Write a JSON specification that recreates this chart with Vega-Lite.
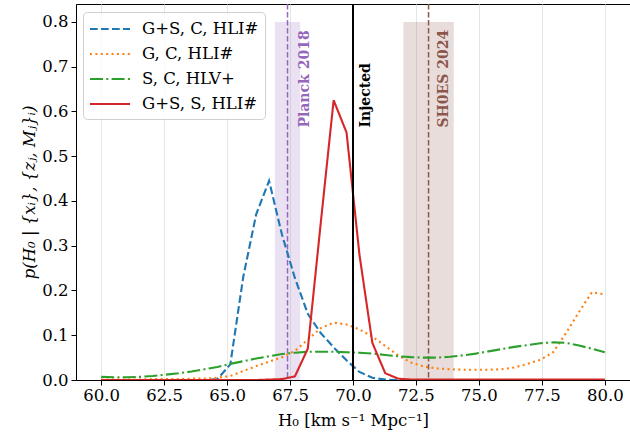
{
  "$schema": "https://vega.github.io/schema/vega-lite/v6.json",
  "autosize": {"type": "none"},
  "padding": {"left": 76, "top": 4, "right": 0, "bottom": 54},
  "width": 554,
  "height": 376,
  "background": "white",
  "config": {
    "view": {"stroke": "black", "strokeWidth": 1},
    "axis": {
      "labelFont": "DejaVu Serif", "labelFontSize": 16.5, "labelColor": "black",
      "titleFont": "DejaVu Serif", "titleFontSize": 16.5, "titleFontWeight": "normal", "titleColor": "black",
      "domainColor": "black", "tickColor": "black", "tickSize": 5,
      "gridColor": "#e6e6e6", "gridWidth": 1
    }
  },
  "datasets": {
    "curves": [
      {"h":60.0,"p":0,"s":"G+S, C, HLI#"},{"h":60.513,"p":0,"s":"G+S, C, HLI#"},{"h":61.026,"p":0,"s":"G+S, C, HLI#"},{"h":61.538,"p":0,"s":"G+S, C, HLI#"},{"h":62.051,"p":0,"s":"G+S, C, HLI#"},{"h":62.564,"p":0,"s":"G+S, C, HLI#"},{"h":63.077,"p":0,"s":"G+S, C, HLI#"},{"h":63.59,"p":0,"s":"G+S, C, HLI#"},{"h":64.103,"p":0,"s":"G+S, C, HLI#"},{"h":64.615,"p":0.002,"s":"G+S, C, HLI#"},{"h":65.128,"p":0.035,"s":"G+S, C, HLI#"},{"h":65.641,"p":0.23,"s":"G+S, C, HLI#"},{"h":66.154,"p":0.37,"s":"G+S, C, HLI#"},{"h":66.667,"p":0.445,"s":"G+S, C, HLI#"},{"h":67.179,"p":0.325,"s":"G+S, C, HLI#"},{"h":67.692,"p":0.228,"s":"G+S, C, HLI#"},{"h":68.205,"p":0.148,"s":"G+S, C, HLI#"},{"h":68.718,"p":0.105,"s":"G+S, C, HLI#"},{"h":69.231,"p":0.073,"s":"G+S, C, HLI#"},{"h":69.744,"p":0.044,"s":"G+S, C, HLI#"},{"h":70.256,"p":0.018,"s":"G+S, C, HLI#"},{"h":70.769,"p":0.005,"s":"G+S, C, HLI#"},{"h":71.282,"p":0.001,"s":"G+S, C, HLI#"},{"h":71.795,"p":0,"s":"G+S, C, HLI#"},{"h":72.308,"p":0,"s":"G+S, C, HLI#"},{"h":72.821,"p":0,"s":"G+S, C, HLI#"},{"h":73.333,"p":0,"s":"G+S, C, HLI#"},{"h":73.846,"p":0,"s":"G+S, C, HLI#"},{"h":74.359,"p":0,"s":"G+S, C, HLI#"},{"h":74.872,"p":0,"s":"G+S, C, HLI#"},{"h":75.385,"p":0,"s":"G+S, C, HLI#"},{"h":75.897,"p":0,"s":"G+S, C, HLI#"},{"h":76.41,"p":0,"s":"G+S, C, HLI#"},{"h":76.923,"p":0,"s":"G+S, C, HLI#"},{"h":77.436,"p":0,"s":"G+S, C, HLI#"},{"h":77.949,"p":0,"s":"G+S, C, HLI#"},{"h":78.462,"p":0,"s":"G+S, C, HLI#"},{"h":78.974,"p":0,"s":"G+S, C, HLI#"},{"h":79.487,"p":0,"s":"G+S, C, HLI#"},{"h":80.0,"p":0,"s":"G+S, C, HLI#"},

      {"h":60.0,"p":0.001,"s":"G, C, HLI#"},{"h":60.513,"p":0.001,"s":"G, C, HLI#"},{"h":61.026,"p":0.001,"s":"G, C, HLI#"},{"h":61.538,"p":0.001,"s":"G, C, HLI#"},{"h":62.051,"p":0.002,"s":"G, C, HLI#"},{"h":62.564,"p":0.002,"s":"G, C, HLI#"},{"h":63.077,"p":0.002,"s":"G, C, HLI#"},{"h":63.59,"p":0.003,"s":"G, C, HLI#"},{"h":64.103,"p":0.003,"s":"G, C, HLI#"},{"h":64.615,"p":0.005,"s":"G, C, HLI#"},{"h":65.128,"p":0.009,"s":"G, C, HLI#"},{"h":65.641,"p":0.02,"s":"G, C, HLI#"},{"h":66.154,"p":0.031,"s":"G, C, HLI#"},{"h":66.667,"p":0.041,"s":"G, C, HLI#"},{"h":67.179,"p":0.051,"s":"G, C, HLI#"},{"h":67.692,"p":0.065,"s":"G, C, HLI#"},{"h":68.205,"p":0.09,"s":"G, C, HLI#"},{"h":68.718,"p":0.116,"s":"G, C, HLI#"},{"h":69.231,"p":0.128,"s":"G, C, HLI#"},{"h":69.744,"p":0.124,"s":"G, C, HLI#"},{"h":70.256,"p":0.113,"s":"G, C, HLI#"},{"h":70.769,"p":0.097,"s":"G, C, HLI#"},{"h":71.282,"p":0.076,"s":"G, C, HLI#"},{"h":71.795,"p":0.055,"s":"G, C, HLI#"},{"h":72.308,"p":0.039,"s":"G, C, HLI#"},{"h":72.821,"p":0.03,"s":"G, C, HLI#"},{"h":73.333,"p":0.026,"s":"G, C, HLI#"},{"h":73.846,"p":0.024,"s":"G, C, HLI#"},{"h":74.359,"p":0.023,"s":"G, C, HLI#"},{"h":74.872,"p":0.023,"s":"G, C, HLI#"},{"h":75.385,"p":0.023,"s":"G, C, HLI#"},{"h":75.897,"p":0.024,"s":"G, C, HLI#"},{"h":76.41,"p":0.028,"s":"G, C, HLI#"},{"h":76.923,"p":0.036,"s":"G, C, HLI#"},{"h":77.436,"p":0.045,"s":"G, C, HLI#"},{"h":77.949,"p":0.062,"s":"G, C, HLI#"},{"h":78.462,"p":0.105,"s":"G, C, HLI#"},{"h":78.974,"p":0.152,"s":"G, C, HLI#"},{"h":79.487,"p":0.196,"s":"G, C, HLI#"},{"h":80.0,"p":0.191,"s":"G, C, HLI#"},

      {"h":60.0,"p":0.007,"s":"S, C, HLV+"},{"h":60.513,"p":0.006,"s":"S, C, HLV+"},{"h":61.026,"p":0.006,"s":"S, C, HLV+"},{"h":61.538,"p":0.007,"s":"S, C, HLV+"},{"h":62.051,"p":0.009,"s":"S, C, HLV+"},{"h":62.564,"p":0.012,"s":"S, C, HLV+"},{"h":63.077,"p":0.015,"s":"S, C, HLV+"},{"h":63.59,"p":0.019,"s":"S, C, HLV+"},{"h":64.103,"p":0.024,"s":"S, C, HLV+"},{"h":64.615,"p":0.029,"s":"S, C, HLV+"},{"h":65.128,"p":0.036,"s":"S, C, HLV+"},{"h":65.641,"p":0.042,"s":"S, C, HLV+"},{"h":66.154,"p":0.048,"s":"S, C, HLV+"},{"h":66.667,"p":0.053,"s":"S, C, HLV+"},{"h":67.179,"p":0.058,"s":"S, C, HLV+"},{"h":67.692,"p":0.061,"s":"S, C, HLV+"},{"h":68.205,"p":0.063,"s":"S, C, HLV+"},{"h":68.718,"p":0.063,"s":"S, C, HLV+"},{"h":69.231,"p":0.063,"s":"S, C, HLV+"},{"h":69.744,"p":0.062,"s":"S, C, HLV+"},{"h":70.256,"p":0.061,"s":"S, C, HLV+"},{"h":70.769,"p":0.059,"s":"S, C, HLV+"},{"h":71.282,"p":0.056,"s":"S, C, HLV+"},{"h":71.795,"p":0.053,"s":"S, C, HLV+"},{"h":72.308,"p":0.051,"s":"S, C, HLV+"},{"h":72.821,"p":0.05,"s":"S, C, HLV+"},{"h":73.333,"p":0.05,"s":"S, C, HLV+"},{"h":73.846,"p":0.052,"s":"S, C, HLV+"},{"h":74.359,"p":0.055,"s":"S, C, HLV+"},{"h":74.872,"p":0.059,"s":"S, C, HLV+"},{"h":75.385,"p":0.064,"s":"S, C, HLV+"},{"h":75.897,"p":0.069,"s":"S, C, HLV+"},{"h":76.41,"p":0.074,"s":"S, C, HLV+"},{"h":76.923,"p":0.078,"s":"S, C, HLV+"},{"h":77.436,"p":0.082,"s":"S, C, HLV+"},{"h":77.949,"p":0.084,"s":"S, C, HLV+"},{"h":78.462,"p":0.083,"s":"S, C, HLV+"},{"h":78.974,"p":0.077,"s":"S, C, HLV+"},{"h":79.487,"p":0.07,"s":"S, C, HLV+"},{"h":80.0,"p":0.062,"s":"S, C, HLV+"},

      {"h":60.0,"p":0,"s":"G+S, S, HLI#"},{"h":60.513,"p":0,"s":"G+S, S, HLI#"},{"h":61.026,"p":0,"s":"G+S, S, HLI#"},{"h":61.538,"p":0,"s":"G+S, S, HLI#"},{"h":62.051,"p":0,"s":"G+S, S, HLI#"},{"h":62.564,"p":0,"s":"G+S, S, HLI#"},{"h":63.077,"p":0,"s":"G+S, S, HLI#"},{"h":63.59,"p":0,"s":"G+S, S, HLI#"},{"h":64.103,"p":0,"s":"G+S, S, HLI#"},{"h":64.615,"p":0,"s":"G+S, S, HLI#"},{"h":65.128,"p":0,"s":"G+S, S, HLI#"},{"h":65.641,"p":0,"s":"G+S, S, HLI#"},{"h":66.154,"p":0,"s":"G+S, S, HLI#"},{"h":66.667,"p":0.001,"s":"G+S, S, HLI#"},{"h":67.179,"p":0.002,"s":"G+S, S, HLI#"},{"h":67.692,"p":0.008,"s":"G+S, S, HLI#"},{"h":68.205,"p":0.07,"s":"G+S, S, HLI#"},{"h":68.718,"p":0.35,"s":"G+S, S, HLI#"},{"h":69.231,"p":0.625,"s":"G+S, S, HLI#"},{"h":69.744,"p":0.553,"s":"G+S, S, HLI#"},{"h":70.256,"p":0.28,"s":"G+S, S, HLI#"},{"h":70.769,"p":0.083,"s":"G+S, S, HLI#"},{"h":71.282,"p":0.015,"s":"G+S, S, HLI#"},{"h":71.795,"p":0.003,"s":"G+S, S, HLI#"},{"h":72.308,"p":0.001,"s":"G+S, S, HLI#"},{"h":72.821,"p":0.001,"s":"G+S, S, HLI#"},{"h":73.333,"p":0.001,"s":"G+S, S, HLI#"},{"h":73.846,"p":0.001,"s":"G+S, S, HLI#"},{"h":74.359,"p":0.001,"s":"G+S, S, HLI#"},{"h":74.872,"p":0.001,"s":"G+S, S, HLI#"},{"h":75.385,"p":0.001,"s":"G+S, S, HLI#"},{"h":75.897,"p":0.001,"s":"G+S, S, HLI#"},{"h":76.41,"p":0.001,"s":"G+S, S, HLI#"},{"h":76.923,"p":0.001,"s":"G+S, S, HLI#"},{"h":77.436,"p":0.001,"s":"G+S, S, HLI#"},{"h":77.949,"p":0.001,"s":"G+S, S, HLI#"},{"h":78.462,"p":0.001,"s":"G+S, S, HLI#"},{"h":78.974,"p":0.001,"s":"G+S, S, HLI#"},{"h":79.487,"p":0.001,"s":"G+S, S, HLI#"},{"h":80.0,"p":0.001,"s":"G+S, S, HLI#"}
    ],
    "refs": [
      {"name": "Planck 2018", "h": 67.4, "lo": 66.9, "hi": 67.9},
      {"name": "SH0ES 2024", "h": 73.0, "lo": 72.0, "hi": 74.0},
      {"name": "Injected", "h": 70.0, "lo": 70.0, "hi": 70.0}
    ]
  },
  "encoding": {
    "x": {"type": "quantitative", "scale": {"domain": [59, 81], "nice": false, "zero": false},
      "axis": {"values": [60, 62.5, 65, 67.5, 70, 72.5, 75, 77.5, 80], "format": ".1f", "title": "H₀ [km s⁻¹ Mpc⁻¹]", "labelPadding": 2, "titlePadding": 9, "labelFlush": false}},
    "y": {"type": "quantitative", "scale": {"domain": [0, 0.84], "nice": false, "zero": false},
      "axis": {"values": [0, 0.1, 0.2, 0.3, 0.4, 0.5, 0.6, 0.7, 0.8], "format": ".1f", "title": "p(H₀ | {xᵢ}, {zⱼ, Mⱼ}ᵢ)", "titleFontStyle": "italic", "labelPadding": 3, "titlePadding": 4}}
  },
  "layer": [
    {
      "data": {"name": "refs"},
      "transform": [{"filter": "datum.name === 'Planck 2018'"}],
      "mark": {"type": "rect", "color": "#9467bd", "opacity": 0.2},
      "encoding": {"x": {"field": "lo"}, "x2": {"field": "hi"}, "y": {"datum": 0}, "y2": {"datum": 0.8}}
    },
    {
      "data": {"name": "refs"},
      "transform": [{"filter": "datum.name === 'SH0ES 2024'"}],
      "mark": {"type": "rect", "color": "#8c564b", "opacity": 0.2},
      "encoding": {"x": {"field": "lo"}, "x2": {"field": "hi"}, "y": {"datum": 0}, "y2": {"datum": 0.8}}
    },
    {
      "data": {"name": "refs"},
      "transform": [{"filter": "datum.name === 'Planck 2018'"}],
      "mark": {"type": "rule", "color": "#9467bd", "strokeWidth": 1.5, "strokeDash": [5.5, 2.5]},
      "encoding": {"x": {"field": "h"}}
    },
    {
      "data": {"name": "refs"},
      "transform": [{"filter": "datum.name === 'SH0ES 2024'"}],
      "mark": {"type": "rule", "color": "#8c564b", "strokeWidth": 1.5, "strokeDash": [5.5, 2.5]},
      "encoding": {"x": {"field": "h"}}
    },
    {
      "data": {"name": "curves"},
      "mark": {"type": "line", "strokeWidth": 2.1, "clip": true},
      "encoding": {
        "x": {"field": "h"},
        "y": {"field": "p"},
        "color": {"field": "s", "type": "nominal",
          "scale": {"domain": ["G+S, C, HLI#", "G, C, HLI#", "S, C, HLV+", "G+S, S, HLI#"], "range": ["#1f77b4", "#ff7f0e", "#2ca02c", "#d62728"]},
          "legend": {"title": null, "orient": "none", "legendX": 7, "legendY": 8, "symbolType": "M-1,0H3", "symbolSize": 400, "symbolStrokeWidth": 2, "labelFont": "DejaVu Serif", "labelFontSize": 16.5, "labelColor": "black", "labelOffset": 31, "rowPadding": 5, "padding": 6, "fillColor": "rgba(255,255,255,0.8)", "strokeColor": "#d0d0d0", "cornerRadius": 4}},
        "strokeDash": {"field": "s", "type": "nominal",
          "scale": {"domain": ["G+S, C, HLI#", "G, C, HLI#", "S, C, HLV+", "G+S, S, HLI#"], "range": [[7.7, 3.3], [2, 3.4], [13, 3.3, 2, 3.3], [1, 0]]},
          "legend": {"title": null, "orient": "none", "legendX": 7, "legendY": 8, "symbolType": "M-1,0H3", "symbolSize": 400, "symbolStrokeWidth": 2, "labelFont": "DejaVu Serif", "labelFontSize": 16.5, "labelColor": "black", "labelOffset": 31, "rowPadding": 5, "padding": 6, "fillColor": "rgba(255,255,255,0.8)", "strokeColor": "#d0d0d0", "cornerRadius": 4}}
      }
    },
    {
      "data": {"name": "refs"},
      "transform": [{"filter": "datum.name === 'Injected'"}],
      "mark": {"type": "rule", "color": "black", "strokeWidth": 2},
      "encoding": {"x": {"field": "h"}}
    },
    {
      "data": {"name": "refs"},
      "transform": [{"filter": "datum.name === 'Planck 2018'"}],
      "mark": {"type": "text", "color": "#9467bd", "font": "DejaVu Serif", "fontWeight": "bold", "fontSize": 14, "angle": 270, "align": "left", "baseline": "middle"},
      "encoding": {"x": {"datum": 68.1}, "y": {"datum": 0.564}, "text": {"field": "name"}}
    },
    {
      "data": {"name": "refs"},
      "transform": [{"filter": "datum.name === 'Injected'"}],
      "mark": {"type": "text", "color": "black", "font": "DejaVu Serif", "fontWeight": "bold", "fontSize": 14, "angle": 270, "align": "left", "baseline": "middle"},
      "encoding": {"x": {"datum": 70.53}, "y": {"datum": 0.564}, "text": {"field": "name"}}
    },
    {
      "data": {"name": "refs"},
      "transform": [{"filter": "datum.name === 'SH0ES 2024'"}],
      "mark": {"type": "text", "color": "#8c564b", "font": "DejaVu Serif", "fontWeight": "bold", "fontSize": 14, "angle": 270, "align": "left", "baseline": "middle"},
      "encoding": {"x": {"datum": 73.6}, "y": {"datum": 0.564}, "text": {"field": "name"}}
    }
  ]
}
